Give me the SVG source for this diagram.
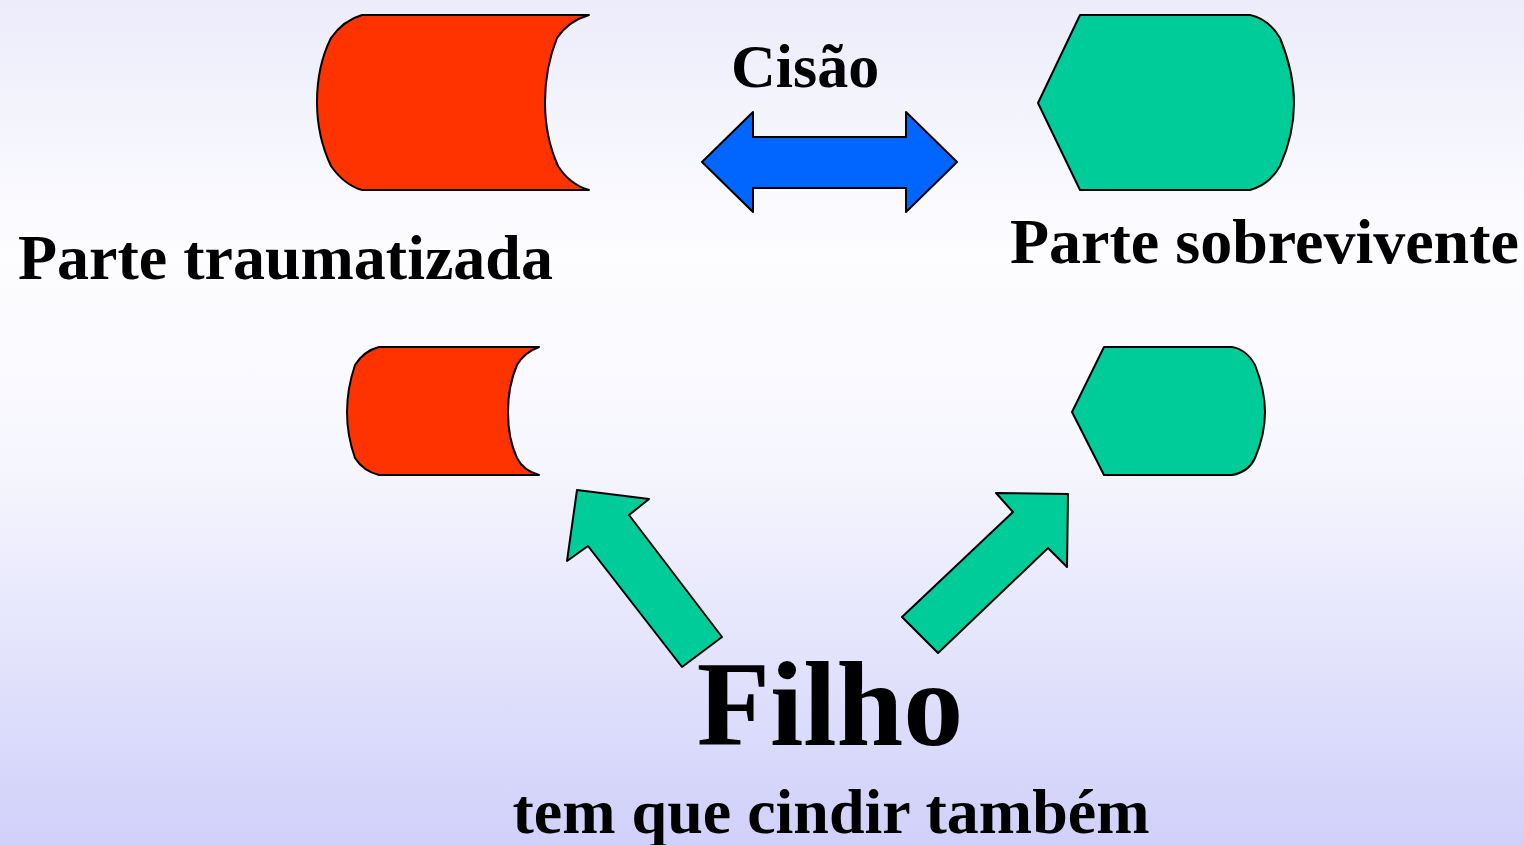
<svg xmlns="http://www.w3.org/2000/svg" width="1524" height="845" viewBox="0 0 1524 845">
<defs>
<linearGradient id="bg" x1="0" y1="0" x2="0" y2="1">
<stop offset="0" stop-color="#ececfb"/>
<stop offset="0.3" stop-color="#fdfdff"/>
<stop offset="0.55" stop-color="#f6f6fe"/>
<stop offset="1" stop-color="#d0d0fa"/>
</linearGradient>
<style>
.sh{stroke:#000;stroke-width:2;stroke-linejoin:round}
.red{fill:#ff3300}
.grn{fill:#00cc99}
.blu{fill:#0066ff}
.t{font-family:"Liberation Serif","Times New Roman",serif;font-weight:bold;fill:#000}
</style>
</defs>
<rect x="0" y="0" width="1524" height="845" fill="url(#bg)"/>
<g id="traumatizada-grande">
<path class="sh red" d="M362,15 L589,15 C572,20 563,29 557,38 C549,58 545,80 545,102 C545,124 549,146 558,166 C565,177 575,186 589,190 L362,190 C348,186 338,176 331,166 C321,145 317,124 317,102 C317,80 321,58 331,38 C338,28 348,19 362,15 Z"/>
</g>
<g id="sobrevivente-grande">
<path class="sh grn" d="M1080,15 L1250,15 C1264,18 1274,28 1280,38 C1289,60 1294,82 1294,103 C1294,124 1289,146 1280,166 C1274,177 1264,186 1250,190 L1080,190 L1038,103 Z"/>
</g>
<g id="traumatizada-pequena">
<path class="sh red" d="M379,347 L539,347 C528,351 521,358 517,365 C511,379 508,396 508,412 C508,428 511,445 517,458 C521,466 528,472 539,475 L379,475 C367,472 360,466 355,458 C350,444 347,428 347,412 C347,396 350,380 355,365 C360,357 367,350 379,347 Z"/>
</g>
<g id="sobrevivente-pequena">
<path class="sh grn" d="M1104,347 L1232,347 C1243,349 1251,357 1255,365 C1261,380 1265,396 1265,412 C1265,428 1261,444 1255,458 C1251,467 1243,473 1232,475 L1104,475 L1072,412 Z"/>
</g>
<g id="conectores">
<path class="sh blu" d="M702,162 L753,112 L753,137 L906,137 L906,112 L957,162 L906,212 L906,188 L753,188 L753,212 Z"/>
<path class="sh grn" d="M577,490 L649,499 L629,515 L722,637 L682,667 L588,546 L567,561 Z"/>
<path class="sh grn" d="M1068,494 L996,493 L1013,512 L902,617 L938,653 L1048,548 L1067,567 Z"/>
</g>
<g id="textos">
<text class="t" x="731" y="87" font-size="62">Cisão</text>
<text class="t" x="18" y="279" font-size="64">Parte traumatizada</text>
<text class="t" x="1010" y="263" font-size="64">Parte sobrevivente</text>
<text class="t" x="830" y="745" font-size="120" text-anchor="middle">Filho</text>
<text class="t" x="831" y="833" font-size="64" text-anchor="middle">tem que cindir também</text>
</g>
</svg>
